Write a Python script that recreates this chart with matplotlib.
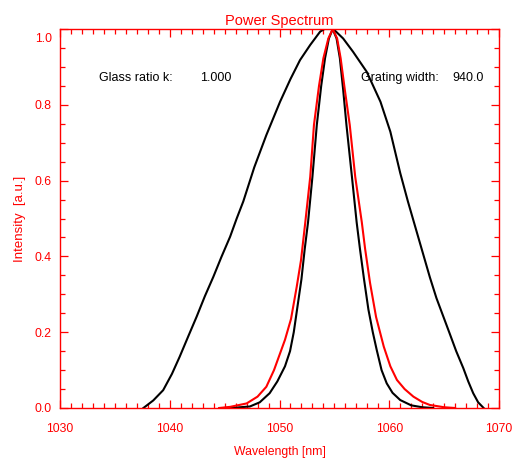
import matplotlib
matplotlib.use("Agg")
import matplotlib.pyplot as plt
from matplotlib.ticker import MultipleLocator, FormatStrFormatter
import matplotlib.transforms as mtransforms

# Broad black spectrum
broad_x = [1037.6, 1038.5, 1039.4, 1040.2, 1040.9, 1041.7, 1042.45, 1043.2, 1043.97,
           1044.7, 1045.5, 1046.1, 1046.7, 1047.7, 1048.8, 1050.05, 1051.0, 1051.87,
           1052.8, 1053.7, 1054.1, 1054.9, 1055.8, 1056.7, 1057.95, 1059.2, 1060.1,
           1061.0, 1061.7, 1062.4, 1063.1, 1063.7, 1064.3, 1065.5, 1066.1, 1066.75,
           1067.2, 1067.65, 1068.1, 1068.6]
broad_y = [0.0, 0.02, 0.047, 0.09, 0.135, 0.19, 0.241, 0.295, 0.346,
           0.398, 0.452, 0.50, 0.545, 0.635, 0.72, 0.808, 0.868, 0.918,
           0.958, 0.993, 1.0, 1.0, 0.975, 0.94, 0.887, 0.808, 0.729,
           0.62, 0.545, 0.475, 0.405, 0.345, 0.29, 0.197, 0.15, 0.105,
           0.07, 0.039, 0.015, 0.0]

# Narrow black spectrum
narrow_x = [1045.0, 1046.0, 1047.3, 1048.2, 1049.1, 1049.8, 1050.5, 1050.96, 1051.3,
            1051.6, 1052.0, 1052.3, 1052.6, 1053.0, 1053.4, 1053.8, 1054.15, 1054.5,
            1054.85, 1055.2, 1055.5, 1055.8, 1056.1, 1056.6, 1057.03, 1057.33, 1057.7,
            1058.1, 1058.5, 1058.86, 1059.3, 1059.77, 1060.3, 1061.0, 1062.0, 1063.0, 1064.0]
narrow_y = [0.0, 0.001, 0.004, 0.015, 0.039, 0.07, 0.11, 0.15, 0.2,
            0.26, 0.34, 0.42, 0.49, 0.61, 0.747, 0.85, 0.923, 0.975,
            1.0, 0.975, 0.923, 0.84, 0.747, 0.61, 0.49, 0.42, 0.34,
            0.26, 0.2, 0.153, 0.10, 0.065, 0.04, 0.021, 0.007, 0.002, 0.0]

# Red spectrum
red_x = [1044.5, 1045.5, 1047.0, 1048.0, 1048.8, 1049.5, 1050.05, 1050.5, 1051.05,
         1051.57, 1051.96, 1052.35, 1052.8, 1053.14, 1053.6, 1054.0, 1054.45, 1054.85,
         1055.25, 1055.57, 1055.95, 1056.4, 1056.9, 1057.5, 1057.8, 1058.25, 1058.8,
         1059.5, 1060.1, 1060.7, 1061.4, 1062.2, 1063.0, 1063.7, 1065.0, 1066.0]
red_y = [0.0, 0.003, 0.012, 0.03, 0.056, 0.10, 0.144, 0.18, 0.235,
         0.32, 0.39, 0.49, 0.61, 0.747, 0.85, 0.923, 0.975, 1.0,
         0.975, 0.923, 0.84, 0.747, 0.61, 0.49, 0.42, 0.33, 0.24,
         0.162, 0.11, 0.074, 0.05, 0.03, 0.016, 0.008, 0.002, 0.0]

title = "Power Spectrum"
xlabel = "Wavelength [nm]"
ylabel = "Intensity  [a.u.]"
glass_label, glass_value = "Glass ratio k:", "1.000"
grating_label, grating_value = "Grating width:", "940.0"

RED = "#ff0000"
plt.rcParams['font.family'] = ['Liberation Sans', 'DejaVu Sans']

fig = plt.figure(figsize=(5.12, 4.59), dpi=100)
ax = fig.add_axes([60/512, 51/459, 439/512, 379/459])

ax.plot(broad_x, broad_y, color="black", lw=1.5)
ax.plot(narrow_x, narrow_y, color="black", lw=1.5)
ax.plot(red_x, red_y, color=RED, lw=1.5)

ax.set_xlim(1030, 1070)
ax.set_ylim(0, 1.0)
ax.xaxis.set_major_locator(MultipleLocator(10))
ax.xaxis.set_minor_locator(MultipleLocator(1))
ax.yaxis.set_major_locator(MultipleLocator(0.2))
ax.yaxis.set_minor_locator(MultipleLocator(0.05))
ax.xaxis.set_major_formatter(FormatStrFormatter('%d'))
ax.yaxis.set_major_formatter(FormatStrFormatter('%.1f'))

for s in ax.spines.values():
    s.set_color(RED)
    s.set_linewidth(1.0)

ax.tick_params(which='both', direction='in', top=True, right=True, colors=RED,
               labelsize=8.8, width=0.9)
ax.tick_params(which='major', length=6)
ax.tick_params(which='minor', length=3.5)
ax.tick_params(axis='x', which='major', pad=10.5)
ax.tick_params(axis='y', which='major', pad=6)

fig.canvas.draw()
for lbl in ax.get_yticklabels():
    if lbl.get_text() == '1.0':
        lbl.set_transform(lbl.get_transform() + mtransforms.ScaledTranslation(0, -9/100, fig.dpi_scale_trans))

ax.set_title(title, color=RED, fontsize=10.5, pad=3)
ax.set_xlabel(xlabel, color=RED, fontsize=8.8, va='center')
ax.xaxis.set_label_coords(0.5, (408 - 452) / 379)
ax.set_ylabel(ylabel, color=RED, fontsize=9.5, va='center')
ax.yaxis.set_label_coords((20 - 60) / 439, 0.5)

ax.text(1033.55, 0.871, glass_label, fontsize=9, va='center', ha='left')
ax.text(1042.76, 0.871, glass_value, fontsize=9, va='center', ha='left')
ax.text(1057.43, 0.871, grating_label, fontsize=9, va='center', ha='left')
ax.text(1065.72, 0.871, grating_value, fontsize=9, va='center', ha='left')

fig.savefig("out.png", dpi=100)
